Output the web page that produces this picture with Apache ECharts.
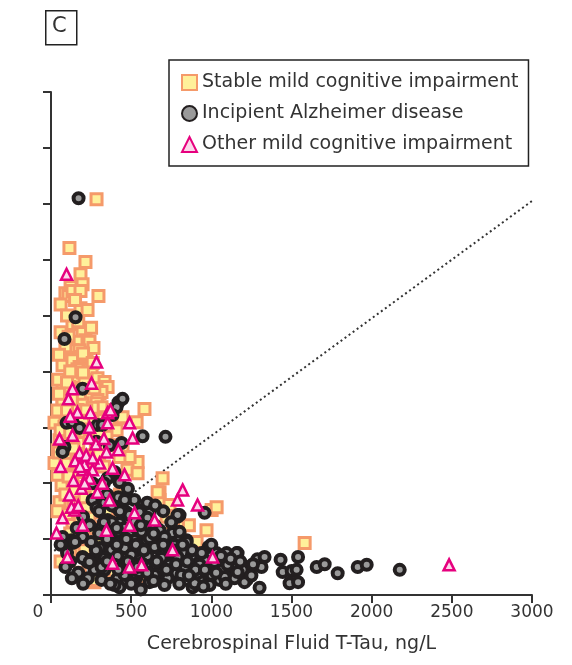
<!DOCTYPE html>
<html>
<head>
<meta charset="utf-8">
<script src="https://cdn.jsdelivr.net/npm/echarts@6/dist/echarts.min.js"></script>
<style>
  html, body { margin: 0; padding: 0; background: #fff; }
  #chart { width: 572px; height: 665px; }
</style>
</head>
<body>
<div id="chart"></div>
<script>
// values: x = CSF T-Tau (ng/L), y = unlabeled axis (0-900)
var seriesNames = ['Stable mild cognitive impairment', 'Incipient Alzheimer disease', 'Other mild cognitive impairment'];

var stableMci = [
  [284,708],[115,621],[215,596],[184,574],[197,556],[122,551],[90,540],[109,535],[134,544],[184,544],
  [296,535],[184,513],[228,510],[134,485],[197,469],[215,456],[159,453],[240,453],[265,442],[134,438],
  [178,438],[190,426],[97,424],[72,411],[134,420],[222,420],[178,408],[165,404],[240,403],[253,397],
  [159,390],[290,388],[209,385],[334,381],[340,372],[72,369],[115,372],[147,367],[234,361],[303,361],
  [353,372],[315,363],[72,354],[159,352],[228,352],[290,349],[583,333],[72,343],[197,343],[284,343],
  [346,331],[165,331],[315,336],[72,322],[115,318],[315,318],[427,317],[290,313],[534,309],[446,318],
  [22,308],[84,301],[259,308],[409,295],[97,281],[197,286],[346,283],[396,268],[446,263],[540,238],
  [490,247],[34,236],[115,247],[72,218],[134,202],[66,197],[178,193],[240,188],[72,166],[159,161],
  [222,156],[134,131],[240,138],[315,148],[409,152],[696,209],[677,184],[677,170],[739,161],[721,140],
  [1002,152],[1033,157],[970,116],[783,122],[908,95],[240,86],[303,66],[165,75],[271,23],[552,32],
  [646,36],[883,32],[1582,93],[459,50],[583,68],[384,39],[440,116],[303,98],
  [53,277],[147,295],[41,259],[209,250],[271,233],[365,215],[427,247],[477,224],[540,218],[22,236],
  [53,166],[259,27],[665,184],[190,98],[552,86],[802,122],
  [60,520],[150,528],[100,500],[170,490],[60,470],[110,462],[250,478],[90,445],[200,432],[50,430],
  [120,400],[260,415],[200,398],[45,385],[100,380],[270,370],[180,360],[50,360],[130,350],[260,335],
  [40,330],[100,330],[220,330],[150,310],[200,312],[60,295],[120,290],[240,296],[300,290],[170,272],
  [50,255],[140,262],[280,258],[330,265],[100,235],[160,238],[230,245],[300,250],[40,215],[110,212],
  [175,220],[330,230],[90,180],[150,185],[210,175],[290,160],[350,150],[100,145],[180,140],[40,150],
  [270,120],[120,110],[380,95],[210,80],[330,45],[180,40],[620,100],[520,60],[760,130],[740,55],
  [860,125],[430,180],[120,80],[60,60]
];

var incipientAd = [
  [172,710],[153,497],[84,458],[197,369],[421,345],[446,351],[409,336],[384,322],[97,308],[134,309],
  [290,304],[178,299],[321,304],[571,284],[714,283],[365,268],[284,274],[84,265],
  [72,256],[440,272],[259,200],[353,209],[396,220],[427,202],[259,170],[284,156],[334,165],[409,157],
  [471,148],[353,134],[427,129],[315,120],[240,125],[128,98],[197,104],[197,68],[228,59],[271,50],
  [334,45],[415,30],[571,152],[615,147],[552,134],[634,122],[502,111],[384,102],[440,86],[509,86],
  [596,98],[677,111],[721,98],[758,111],[802,143],[802,98],[846,98],[346,75],[409,63],[471,68],
  [552,63],[634,75],[696,75],[758,63],[596,50],[677,45],[471,39],[534,32],[721,32],[783,39],
  [846,27],[427,14],
  [789,140],[958,147],[802,113],[846,95],[983,86],[1033,75],[1095,75],[1164,75],[696,104],[659,86],
  [709,63],[821,63],[908,57],[989,50],[1064,45],[1133,50],[1220,50],[1051,27],[1158,36],[1220,27],
  [927,27],[883,14],
  [2175,45],[1913,50],[1969,54],[1788,39],[1657,50],[1707,55],[1541,68],[1432,63],[1445,41],[1501,43],
  [1532,45],[1488,21],[1541,23],[1301,13],[1288,64],[1332,68],[1313,50],[1158,75],[1195,45],[1207,23],
  [1145,30],
  [490,143],[552,148],[602,138],[521,131],[459,120],[583,122],[646,125],[415,113],[490,107],[565,113],
  [677,116],[365,98],[440,95],[521,98],[615,102],[708,104],[771,89],[303,84],[377,81],[459,84],
  [552,84],[646,86],[739,81],[833,77],[334,66],[415,70],[502,72],[602,70],[690,66],[789,68],
  [877,70],[958,63],[396,54],[477,54],[565,57],[652,54],[739,54],[833,48],[927,54],[1020,59],
  [1101,54],[459,36],[552,41],[646,36],[727,30],[814,36],[914,39],[1002,36],[1083,32],[1164,41],
  [521,21],[615,23],[708,18],[896,21],[989,18],[396,18],[315,27],[271,45],[253,63],
  [72,104],[134,93],[222,63],[315,50],[197,66],[240,59],[789,143],
  [300,150],[350,180],[420,175],[480,190],[520,170],[600,165],[650,160],[700,150],[750,130],[560,125],
  [430,150],[380,130],[300,110],[350,100],[410,90],[470,100],[530,90],[580,80],[640,110],[700,90],
  [760,80],[820,90],[880,80],[940,75],[1000,90],[1060,70],[1120,65],[1180,60],[280,80],[350,60],
  [420,45],[480,60],[540,50],[600,40],[660,60],[720,45],[780,55],[850,60],[900,45],[960,45],
  [1030,40],[1090,20],[1250,35],[1260,55],[500,20],[560,10],[640,25],[800,20],[950,15],[860,35],
  [330,130],[250,95],[200,140],[160,120],[120,60],[170,40],[230,30],[370,20],
  [60,90],[100,75],[150,95],[90,50],[130,30],[200,20],[330,200],[380,160],[460,170],[410,120]
];

var otherMci = [
  [97,574],[284,417],[253,379],[134,369],[109,351],[165,327],[246,326],[353,326],[371,331],[490,308],
  [353,308],[53,279],[134,286],[240,281],[509,281],
  [346,256],[178,254],[197,224],[228,215],[303,236],[384,227],[459,215],[115,179],[365,170],[147,152],
  [72,138],[34,111],[103,68],[290,184],[521,147],[490,125],[646,134],[821,188],[789,170],[914,161],
  [758,81],[1008,68],[490,50],[565,54],[384,57],[197,125],[346,116],[128,157],[190,191],[209,233],
  [259,224],[240,209],[2483,54],
  [150,240],[220,250],[260,245],[180,230],[210,200],[140,205],[280,270],[320,200],[170,160],[240,300],
  [330,280],[60,230],[420,260],[120,320]
];

// dotted reference line (end points)
var refLine = [[20,79],[3000,705]];

var chart = echarts.init(document.getElementById('chart'));
var font = '"DejaVu Sans", "Liberation Sans", Arial, sans-serif';

chart.setOption({
  animation: false,
  backgroundColor: '#fff',
  textStyle: { fontFamily: font },
  grid: { left: 51, right: 40, top: 92, bottom: 70 },
  graphic: [
    {
      type: 'rect', left: 45, top: 10,
      shape: { width: 31, height: 34 },
      style: { fill: '#fff', stroke: '#222', lineWidth: 1.5 }
    },
    {
      type: 'text', left: 52, top: 16,
      style: { text: 'C', fontSize: 21, fill: '#333', fontFamily: font }
    }
  ],
  legend: {
    data: seriesNames,
    orient: 'vertical',
    left: 169, top: 60,
    itemGap: 12,
    itemWidth: 15, itemHeight: 15,
    padding: [13, 10, 12, 12],
    borderColor: '#222', borderWidth: 1.5,
    textStyle: { fontSize: 19, color: '#333', fontFamily: font }
  },
  xAxis: {
    type: 'value',
    min: 0, max: 3000, interval: 500,
    name: 'Cerebrospinal Fluid T-Tau, ng/L',
    nameLocation: 'middle', nameGap: 40,
    nameTextStyle: { fontSize: 19, color: '#333' },
    axisLine: { lineStyle: { color: '#333', width: 2 } },
    axisTick: { length: 8, lineStyle: { color: '#333', width: 2 } },
    axisLabel: {
      fontSize: 17, color: '#333', margin: 9,
      formatter: function (v) { return v === 0 ? '{z|0}' : v; },
      rich: { z: { fontSize: 17, color: '#333', padding: [0, 26, 0, 0] } }
    },
    splitLine: { show: false }
  },
  yAxis: {
    type: 'value',
    min: 0, max: 900, interval: 100,
    axisLine: { show: true, lineStyle: { color: '#333', width: 2 } },
    axisTick: { show: true, length: 8, lineStyle: { color: '#333', width: 2 } },
    axisLabel: { show: false },
    splitLine: { show: false }
  },
  series: [
    {
      name: 'ref',
      type: 'line',
      data: refLine,
      showSymbol: false,
      silent: true,
      lineStyle: { type: [2, 3], color: '#333', width: 2 },
      z: 1
    },
    {
      name: seriesNames[0],
      type: 'scatter',
      data: stableMci,
      symbol: 'rect',
      symbolSize: 11,
      itemStyle: { color: '#fff09a', borderColor: '#f59a6a', borderWidth: 3, opacity: 1 },
      z: 2
    },
    {
      name: seriesNames[1],
      type: 'scatter',
      data: incipientAd,
      symbol: 'circle',
      symbolSize: 10,
      itemStyle: { color: '#9a9a9a', borderColor: '#231f20', borderWidth: 4, opacity: 1 },
      z: 3
    },
    {
      name: seriesNames[2],
      type: 'scatter',
      data: otherMci,
      symbol: 'triangle',
      symbolSize: 11,
      itemStyle: { color: '#fbd7ea', borderColor: '#e6007e', borderWidth: 2.5, opacity: 1 },
      z: 4
    }
  ]
});
</script>
</body>
</html>
